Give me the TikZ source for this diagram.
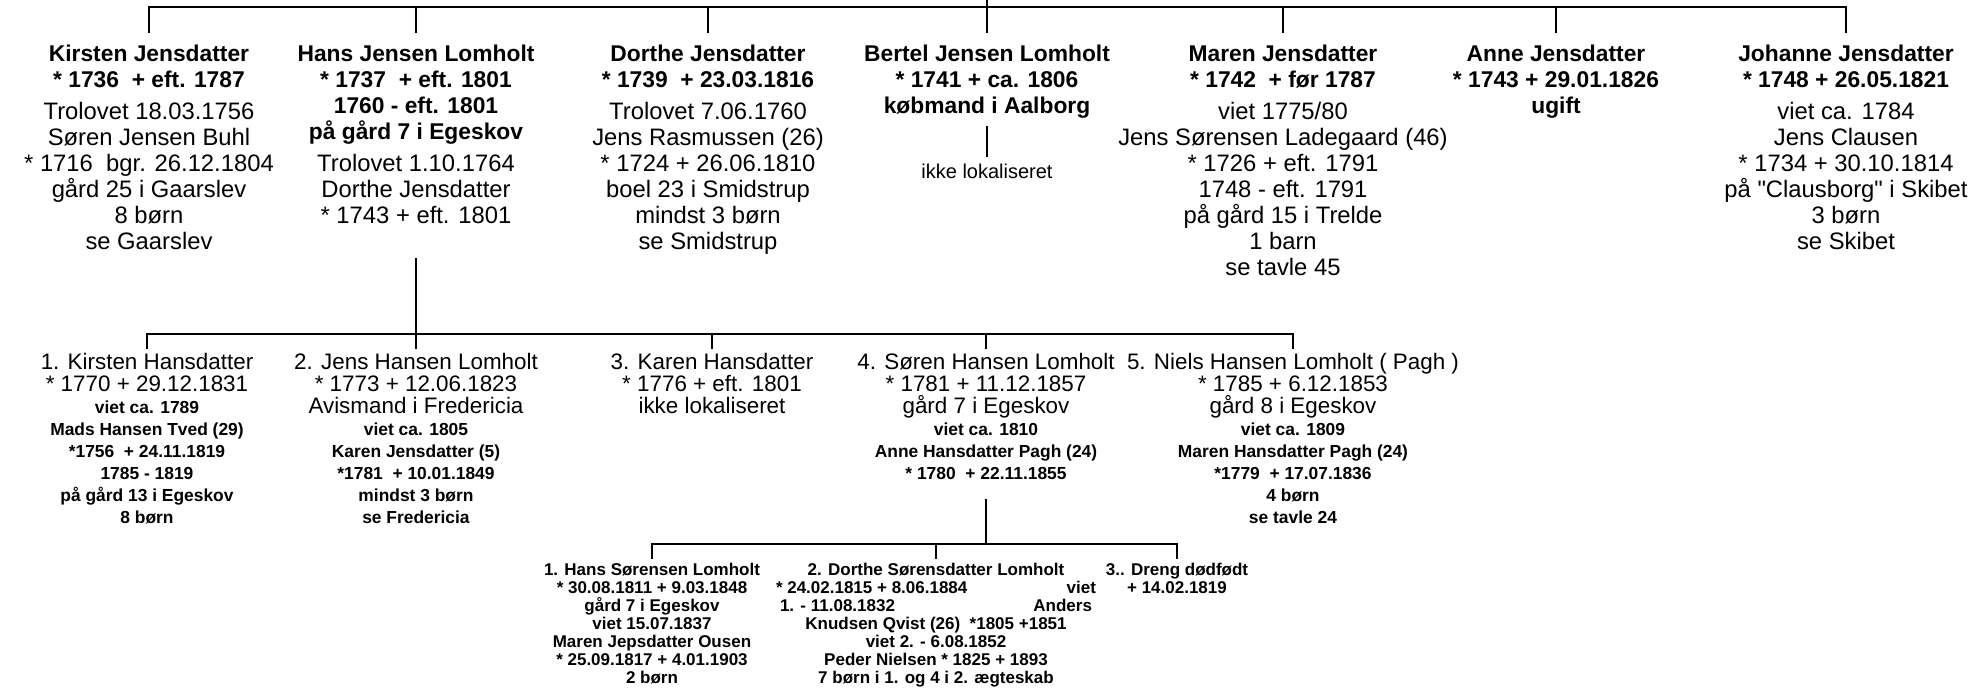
\documentclass[tikz,border=0pt]{standalone}
\usepackage{fontspec}
\setmainfont{Liberation Sans}[Ligatures=TeXOff]
\newcommand\tb[1]{{\fontsize{11.4}{13}\selectfont\bfseries #1}}
\newcommand\mbx[1]{{\fontsize{8.7}{11}\selectfont\bfseries #1}}
\begin{document}
\begin{tikzpicture}[x=0.5pt,y=-0.5pt,
  topp/.style={anchor=north,align=center,inner sep=0pt,font=\fontsize{11.9}{13}\selectfont},
  midp/.style={anchor=north,align=center,inner sep=0pt,font=\fontsize{11.2}{11}\selectfont},
  botp/.style={anchor=north,align=center,inner sep=0pt,font=\fontsize{8.5}{9}\selectfont\bfseries},
  notep/.style={anchor=north,align=center,inner sep=0pt,font=\fontsize{10}{11}\selectfont},
  conn/.style={line width=0.7pt,line cap=rect}]
\useasboundingbox (0,0) rectangle (1978,689);
% ---- generation 1 ----
\node[topp] (kirsten) at (149,45) {\tb{Kirsten Jensdatter}\\\tb{{*} 1736~ + eft. 1787}\\[3pt]Trolovet 18.03.1756\\Søren Jensen Buhl\\{*} 1716~ bgr. 26.12.1804\\gård 25 i Gaarslev\\8 børn\\se Gaarslev};
\node[topp] (hans) at (416,45) {\tb{Hans Jensen Lomholt}\\\tb{{*} 1737~ + eft. 1801}\\\tb{1760 - eft. 1801}\\\tb{på gård 7 i Egeskov}\\[3pt]Trolovet 1.10.1764\\Dorthe Jensdatter\\{*} 1743 + eft. 1801};
\node[topp] (dorthe) at (708,45) {\tb{Dorthe Jensdatter}\\\tb{{*} 1739~ + 23.03.1816}\\[3pt]Trolovet 7.06.1760\\Jens Rasmussen (26)\\{*} 1724 + 26.06.1810\\boel 23 i Smidstrup\\mindst 3 børn\\se Smidstrup};
\node[topp] (bertel) at (987,45) {\tb{Bertel Jensen Lomholt}\\\tb{{*} 1741 + ca. 1806}\\\tb{købmand i Aalborg}};
\node[topp] (maren) at (1283,45) {\tb{Maren Jensdatter}\\\tb{{*} 1742~ + før 1787}\\[3pt]viet 1775/80\\Jens Sørensen Ladegaard (46)\\{*} 1726 + eft. 1791\\1748 - eft. 1791\\på gård 15 i Trelde\\1 barn\\se tavle 45};
\node[topp] (anne) at (1556,45) {\tb{Anne Jensdatter}\\\tb{{*} 1743 + 29.01.1826}\\\tb{ugift}};
\node[topp] (johanne) at (1846,45) {\tb{Johanne Jensdatter}\\\tb{{*} 1748 + 26.05.1821}\\[3pt]viet ca. 1784\\Jens Clausen\\{*} 1734 + 30.10.1814\\på "Clausborg" i Skibet\\3 børn\\se Skibet};
\node[notep] (ikke) at (987,164) {ikke lokaliseret};
% ---- generation 2 ----
\node[midp] (kirstenh) at (147,353) {1. Kirsten Hansdatter\\{*} 1770 + 29.12.1831\\\mbx{viet ca. 1789}\\\mbx{Mads Hansen Tved (29)}\\\mbx{{*}1756~ + 24.11.1819}\\\mbx{1785 - 1819}\\\mbx{på gård 13 i Egeskov}\\\mbx{8 børn}};
\node[midp] (jens) at (416,353) {2. Jens Hansen Lomholt\\{*} 1773 + 12.06.1823\\Avismand i Fredericia\\\mbx{viet ca. 1805}\\\mbx{Karen Jensdatter (5)}\\\mbx{{*}1781~ + 10.01.1849}\\\mbx{mindst 3 børn}\\\mbx{se Fredericia}};
\node[midp] (karen) at (712,353) {3. Karen Hansdatter\\{*} 1776 + eft. 1801\\ikke lokaliseret};
\node[midp] (soren) at (986,353) {4. Søren Hansen Lomholt\\{*} 1781 + 11.12.1857\\gård 7 i Egeskov\\\mbx{viet ca. 1810}\\\mbx{Anne Hansdatter Pagh (24)}\\\mbx{{*} 1780~ + 22.11.1855}};
\node[midp] (niels) at (1293,353) {5. Niels Hansen Lomholt ( Pagh )\\{*} 1785 + 6.12.1853\\gård 8 i Egeskov\\\mbx{viet ca. 1809}\\\mbx{Maren Hansdatter Pagh (24)}\\\mbx{{*}1779~ + 17.07.1836}\\\mbx{4 børn}\\\mbx{se tavle 24}};
% ---- generation 3 ----
\node[botp] (hanss) at (652,563) {1. Hans Sørensen Lomholt\\{*} 30.08.1811 + 9.03.1848\\gård 7 i Egeskov\\viet 15.07.1837\\Maren Jepsdatter Ousen\\{*} 25.09.1817 + 4.01.1903\\2 børn};
\node[botp] (dorthes) at (936,563) {2. Dorthe Sørensdatter Lomholt\\\makebox[160pt]{{*} 24.02.1815 + 8.06.1884\hfill viet}\\\makebox[156pt]{1. - 11.08.1832\hfill Anders}\\Knudsen Qvist (26)~ {*}1805 +1851\\viet 2. - 6.08.1852\\Peder Nielsen {*} 1825 + 1893\\7 børn i 1. og 4 i 2. ægteskab};
\node[botp] (dreng) at (1177,563) {3.. Dreng dødfødt\\+ 14.02.1819};
% ---- connectors ----
\coordinate (parent) at (987,0);
\coordinate (busT) at (987,7);
\draw[conn] (parent) -- ([yshift=6.5pt]bertel.north);
\draw[conn] (kirsten.north |- busT) -- (johanne.north |- busT);
\foreach \n in {kirsten,hans,dorthe,maren,anne,johanne}
  \draw[conn] (\n.north |- busT) -- ([yshift=6.5pt]\n.north);
\coordinate (bertelgap) at (987,127);
\draw[conn] (bertelgap) -- ([yshift=4pt]ikke.north);
\coordinate (hansgap) at (416,259);
\coordinate (busM) at (416,334);
\draw[conn] (hansgap) -- ([yshift=2.5pt]jens.north);
\draw[conn] (kirstenh.north |- busM) -- (niels.north |- busM);
\foreach \n in {kirstenh,karen,soren,niels}
  \draw[conn] (\n.north |- busM) -- ([yshift=2.5pt]\n.north);
\coordinate (sorengap) at (986,500);
\coordinate (busB) at (986,544);
\draw[conn] (sorengap) -- (busB);
\draw[conn] (hanss.north |- busB) -- (dreng.north |- busB);
\foreach \n in {hanss,dorthes,dreng}
  \draw[conn] (\n.north |- busB) -- ([yshift=2.5pt]\n.north);
\end{tikzpicture}
\end{document}
